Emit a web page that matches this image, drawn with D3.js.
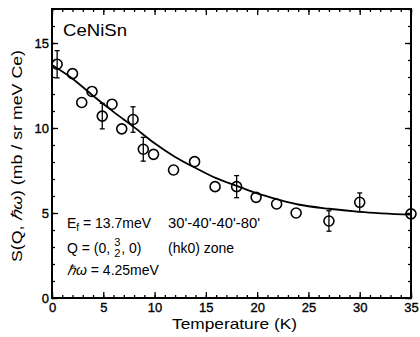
<!DOCTYPE html>
<html>
<head>
<meta charset="utf-8">
<script src="https://cdn.jsdelivr.net/npm/d3@7"></script>
<style>
  html, body { margin: 0; padding: 0; background: #fff; }
  svg { display: block; }
  text { font-family: "Liberation Sans", Arial, Helvetica, sans-serif; fill: #000; }
</style>
</head>
<body>
<svg id="chart" width="420" height="337"></svg>
<script>
// ---- data ----
const temps  = [0.5, 2.0, 2.9, 3.9, 4.9, 5.85, 6.8, 7.9, 8.9, 9.9, 11.85, 13.9, 15.9, 18.0, 19.9, 21.9, 23.8, 27.0, 30.0, 35.0];
const sVals  = [13.75, 13.2, 11.5, 12.15, 10.7, 11.4, 9.95, 10.5, 8.75, 8.45, 7.53, 8.02, 6.55, 6.55, 5.92, 5.53, 5.0, 4.53, 5.63, 4.95];
const sErrs  = [0.8, 0, 0, 0, 0.75, 0, 0, 0.75, 0.7, 0, 0, 0, 0, 0.65, 0, 0, 0, 0.6, 0.55, 0];
const fitT   = [0, 2, 4, 6, 8, 10, 12, 14, 16, 18, 20, 22, 24, 27, 30, 35];
const fitS   = [13.7, 12.9, 11.9, 10.95, 10.05, 9.1, 8.3, 7.65, 7.05, 6.6, 6.15, 5.8, 5.5, 5.25, 5.07, 4.9];
const xTickLabels = [0, 5, 10, 15, 20, 25, 30, 35];
const yTickLabels = [0, 5, 10, 15];

const svg = d3.select("#chart");
const x = d3.scaleLinear().domain([0, 35]).range([52, 411]);
const y = d3.scaleLinear().domain([0, 17]).range([298, 9]);

const minorX = d3.range(0, 36, 1);
const minorY = d3.range(0, 18, 1);

function styleAxis(g) {
  g.select(".domain").remove();
  g.selectAll(".tick line").attr("stroke", "#000").attr("stroke-width", 1.3);
  g.selectAll(".tick text").attr("font-size", 13).attr("fill", "#000")
    .attr("stroke", "#000").attr("stroke-width", 0.35)
    .attr("font-family", "\"Liberation Sans\", Arial, sans-serif");
}

// minor ticks (inward)
svg.append("g").attr("transform", `translate(0,${y(0)})`)
  .call(d3.axisBottom(x).tickValues(minorX).tickSize(-3).tickFormat(""))
  .call(styleAxis);
svg.append("g").attr("transform", `translate(0,${y(17)})`)
  .call(d3.axisTop(x).tickValues(minorX).tickSize(-3).tickFormat(""))
  .call(styleAxis);
svg.append("g").attr("transform", `translate(${x(0)},0)`)
  .call(d3.axisLeft(y).tickValues(minorY).tickSize(-3).tickFormat(""))
  .call(styleAxis);
svg.append("g").attr("transform", `translate(${x(35)},0)`)
  .call(d3.axisRight(y).tickValues(minorY).tickSize(-3).tickFormat(""))
  .call(styleAxis);

// major ticks with labels
svg.append("g").attr("transform", `translate(0,${y(0)})`)
  .call(d3.axisBottom(x).tickValues(xTickLabels).tickSize(-6).tickPadding(5).tickFormat(d3.format("d")))
  .call(styleAxis);
svg.append("g").attr("transform", `translate(0,${y(17)})`)
  .call(d3.axisTop(x).tickValues(xTickLabels).tickSize(-6).tickFormat(""))
  .call(styleAxis);
svg.append("g").attr("transform", `translate(${x(0)},0)`)
  .call(d3.axisLeft(y).tickValues(yTickLabels).tickSize(-6).tickPadding(3).tickFormat(d3.format("d")))
  .call(styleAxis);
svg.append("g").attr("transform", `translate(${x(35)},0)`)
  .call(d3.axisRight(y).tickValues(yTickLabels).tickSize(-6).tickFormat(""))
  .call(styleAxis);

// frame
svg.append("rect")
  .attr("x", x(0)).attr("y", y(17))
  .attr("width", x(35) - x(0)).attr("height", y(0) - y(17))
  .attr("fill", "none").attr("stroke", "#000").attr("stroke-width", 2);

// fit curve
const line = d3.line().x(d => x(d[0])).y(d => y(d[1])).curve(d3.curveMonotoneX);
svg.append("path")
  .datum(fitT.map((t, i) => [t, fitS[i]]))
  .attr("d", line)
  .attr("fill", "none").attr("stroke", "#000").attr("stroke-width", 1.8);

// data
const pts = temps.map((t, i) => ({ t, s: sVals[i], e: sErrs[i] }));
const eb = svg.append("g").attr("stroke", "#000").attr("stroke-width", 1.3);
pts.filter(d => d.e > 0).forEach(d => {
  eb.append("line").attr("x1", x(d.t)).attr("x2", x(d.t)).attr("y1", y(d.s - d.e)).attr("y2", y(d.s + d.e));
  eb.append("line").attr("x1", x(d.t) - 2.5).attr("x2", x(d.t) + 2.5).attr("y1", y(d.s - d.e)).attr("y2", y(d.s - d.e));
  eb.append("line").attr("x1", x(d.t) - 2.5).attr("x2", x(d.t) + 2.5).attr("y1", y(d.s + d.e)).attr("y2", y(d.s + d.e));
});
svg.append("g").selectAll("circle").data(pts).join("circle")
  .attr("cx", d => x(d.t)).attr("cy", d => y(d.s)).attr("r", 5)
  .attr("fill", "none").attr("stroke", "#000").attr("stroke-width", 1.6);

// texts
svg.append("text").attr("x", 63).attr("y", 36).attr("font-size", 17)
  .attr("textLength", 64).attr("lengthAdjust", "spacingAndGlyphs").text("CeNiSn");

svg.append("text").attr("x", 172).attr("y", 329).attr("font-size", 15)
  .attr("textLength", 125).attr("lengthAdjust", "spacingAndGlyphs").text("Temperature (K)");

const yl = svg.append("text").attr("transform", "translate(22,156) rotate(-90)")
  .attr("text-anchor", "middle").attr("font-size", 15)
  .attr("textLength", 212).attr("lengthAdjust", "spacingAndGlyphs");
yl.append("tspan").text("S(Q, ");
yl.append("tspan").attr("font-style", "italic").text("ℏω");
yl.append("tspan").text(")   (mb / sr meV Ce)");

// annotations
const fs = 14;
const t1 = svg.append("text").attr("x", 67).attr("y", 228).attr("font-size", fs);
t1.append("tspan").text("E");
t1.append("tspan").attr("font-size", 10).attr("dy", 3).text("f");
t1.append("tspan").attr("dy", -3).text(" = 13.7meV");

svg.append("text").attr("x", 168).attr("y", 228).attr("font-size", fs)
  .attr("textLength", 92).attr("lengthAdjust", "spacingAndGlyphs").text("30'-40'-40'-80'");

const qa = svg.append("text").attr("x", 67).attr("y", 253).attr("font-size", fs).text("Q = (0,");
const qw = qa.node().getComputedTextLength();
const fx = 67 + qw + 7;
svg.append("text").attr("x", fx).attr("y", 246).attr("font-size", 11).attr("text-anchor", "middle").text("3");
svg.append("text").attr("x", fx).attr("y", 257).attr("font-size", 11).attr("text-anchor", "middle").text("2");
svg.append("text").attr("x", fx + 4).attr("y", 253).attr("font-size", fs).text(", 0)");

svg.append("text").attr("x", 168).attr("y", 253).attr("font-size", fs).text("(hk0) zone");

const t3 = svg.append("text").attr("x", 67).attr("y", 275).attr("font-size", fs);
t3.append("tspan").attr("font-style", "italic").text("ℏω");
t3.append("tspan").text(" = 4.25meV");
</script>
</body>
</html>
